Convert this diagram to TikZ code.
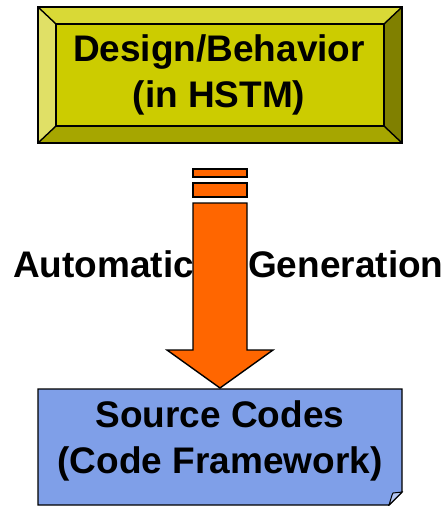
\documentclass[tikz,border=0pt]{standalone}
\usepackage{fontspec}
\setmainfont{Liberation Sans}
\definecolor{bevtop}{HTML}{D9D936}
\definecolor{bevleft}{HTML}{E0E066}
\definecolor{bevface}{HTML}{CCCC00}
\definecolor{bevbot}{HTML}{A6A600}
\definecolor{bevright}{HTML}{808000}
\definecolor{arroworange}{HTML}{FF6600}
\definecolor{docblue}{HTML}{7F9FE8}
\definecolor{foldblue}{HTML}{B4C6F2}
\begin{document}
\begin{tikzpicture}[x=1pt,y=1pt,
  edge/.style={draw=black,line width=1.4pt,line join=miter},
  bigtext/.style={font=\fontsize{37}{46}\selectfont\bfseries,align=center,inner sep=0pt},
  sidetext/.style={font=\fontsize{37}{42}\selectfont\bfseries,inner sep=0pt,anchor=base west}]
\useasboundingbox (0,0) rectangle (445,-506);
% top bevel box
\coordinate (o1) at (38,-7);
\coordinate (o2) at (402,-7);
\coordinate (o3) at (402,-143);
\coordinate (o4) at (38,-143);
\coordinate (i1) at (56,-24);
\coordinate (i2) at (384,-24);
\coordinate (i3) at (384,-126);
\coordinate (i4) at (56,-126);
\fill[bevtop] (o1) -- (o2) -- (i2) -- (i1) -- cycle;
\fill[bevright] (o2) -- (o3) -- (i3) -- (i2) -- cycle;
\fill[bevbot] (o3) -- (o4) -- (i4) -- (i3) -- cycle;
\fill[bevleft] (o4) -- (o1) -- (i1) -- (i4) -- cycle;
\fill[bevface] (i1) rectangle (i3);
\draw[edge] (i1) rectangle (i3);
\draw[edge] (o1) -- (i1) (o2) -- (i2) (o3) -- (i3) (o4) -- (i4);
\draw[edge] (o1) rectangle (o3);
\node[bigtext] (design) at (219,-75) {Design/Behavior\\(in HSTM)};
% arrow
\draw[edge,fill=arroworange] (193,-169) rectangle (247,-177);
\draw[edge,fill=arroworange] (193,-183) rectangle (247,-197);
\draw[edge,fill=arroworange] (193,-203) -- (247,-203) -- (247,-350) -- (273,-350)
  -- (220,-388) -- (167,-350) -- (193,-350) -- cycle;
\node[sidetext] (auto) at (13,-277) {Automatic};
\node[sidetext] (gen) at (248,-277) {Generation};
% bottom document box
\draw[edge,fill=docblue] (38,-389) -- (402,-389) -- (402,-492) -- (389,-505) -- (38,-505) -- cycle;
\draw[edge,fill=foldblue,line width=1pt] (389,-505) .. controls (391,-499) and (392,-494) .. (393,-493) -- (402,-492) -- cycle;
\node[bigtext] (src) at (220,-441) {Source Codes\\(Code Framework)};
\end{tikzpicture}
\end{document}
